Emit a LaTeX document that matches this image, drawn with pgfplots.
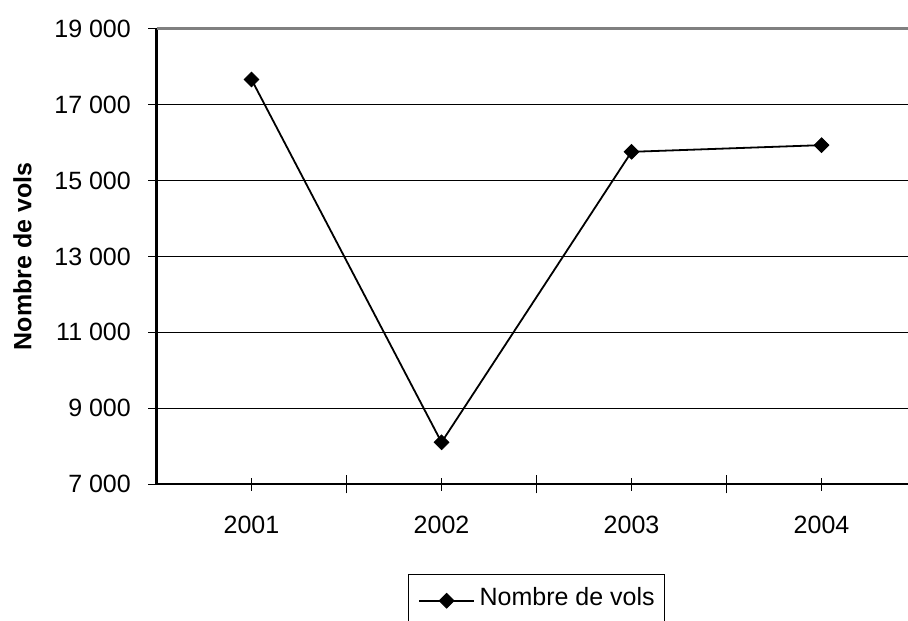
\documentclass[border=0pt]{standalone}
\usepackage{fontspec}
\setmainfont{Liberation Sans}
\usepackage{pgfplots}
\pgfplotsset{compat=1.18}

\begin{document}
\begin{tikzpicture}[font=\fontsize{12.5}{15}\selectfont]
\begin{axis}[
    at={(78.25pt,67.85pt)}, anchor=south west,
    scale only axis, width=375.75pt, height=227.9pt,
    clip=false,
    xmin=-0.5, xmax=3.455,
    ymin=7000, ymax=19000,
    scaled y ticks=false,
    axis x line*=bottom, axis y line*=left,
    axis line style={-, black, line width=1.1pt},
    xtick pos=bottom, ytick pos=left,
    tick align=center,
    xtick={0,1,2,3},
    xticklabels={2001,2002,2003,2004},
    xtick style={black, line width=0.8pt, /pgfplots/major tick length=6.5pt},
    extra x ticks={0.5,1.5,2.5},
    extra x tick labels={},
    extra x tick style={grid=none, xtick style={/pgfplots/major tick length=9pt}},
    ytick={7000,9000,11000,13000,15000,17000,19000},
    yticklabels={7 000,9 000,11 000,13 000,15 000,17 000,19 000},
    ytick style={black, line width=0.8pt, /pgfplots/major tick length=8.3pt},
    ymajorgrids,
    major grid style={black, line width=0.65pt},
    xticklabel style={inner sep=0pt, anchor=north, yshift=-13.5pt},
    yticklabel style={inner sep=0pt, anchor=east, xshift=-10.5pt},
    ylabel={\bfseries Nombre de vols},
    ylabel style={at={(axis description cs:-0.1783,0.5)}, anchor=center},
    legend style={at={(axis description cs:0.3343,-0.1968)}, anchor=north west,
        draw=black, line width=0.5pt, inner xsep=5pt, inner ysep=6.4pt,
        nodes={inner sep=0pt, anchor=base west, text depth=4pt}, column sep=2.3pt},
    legend image code/.code={
        \draw[mark repeat=2, mark phase=2] plot coordinates {(0pt,2.35pt) (13.75pt,2.35pt) (27.5pt,2.35pt)};
    },
]
\addplot[black, line width=0.9pt, mark=square*,
    mark options={rotate=45, fill=black, line width=0.4pt}, mark size=2.6pt]
    coordinates {(0,17658) (1,8105) (2,15753) (3,15929)};
\addlegendentry{Nombre de vols}
\draw[black!50, line width=1.2pt] (rel axis cs:0,1) -- (rel axis cs:1,1);
\end{axis}
\pgfresetboundingbox
\path[use as bounding box] (0,0) rectangle (454pt,310pt);
\end{tikzpicture}
\end{document}
